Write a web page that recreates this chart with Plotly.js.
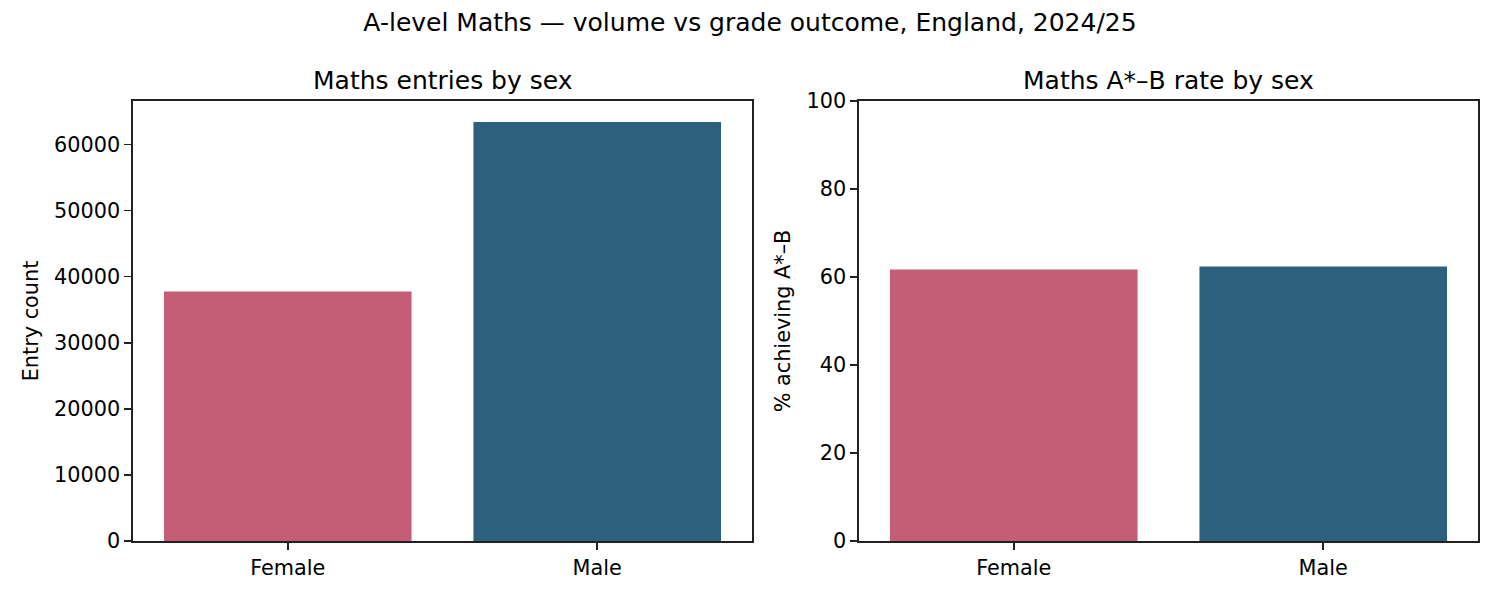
<!DOCTYPE html>
<html>
<head>
<meta charset="utf-8">
<script src="https://cdn.plot.ly/plotly-3.0.1.min.js"></script>
<style>
  html, body { margin: 0; padding: 0; background: #ffffff; }
  #chart { width: 1500px; height: 600px; }
</style>
</head>
<body>
<div id="chart"></div>
<script>
//Data
var sexes = ["Female", "Male"];
var entryCounts = [37750, 63400];
var abRates = [61.7, 62.4];
var barColors = ["#c45e76", "#2d607d"];

var font = "DejaVu Sans, Liberation Sans, sans-serif";
var ink = "#222222";

//Shared axis look, matplotlib-ish: box spines, outside ticks, no grid
function boxAxis(extra) {
    var ax = {
        showline: true, linecolor: ink, linewidth: 1.6, mirror: true,
        ticks: "outside", ticklen: 7, tickwidth: 1.6, tickcolor: ink,
        showgrid: false, zeroline: false, fixedrange: true,
        tickfont: {family: font, size: 20.8, color: "#000000"}
    };
    for (var k in extra) { ax[k] = extra[k]; }
    return ax;
}

var entriesTrace = {
    type: "bar", x: sexes, y: entryCounts, width: 0.8,
    marker: {color: barColors}, xaxis: "x", yaxis: "y",
    hoverinfo: "x+y", showlegend: false
};
var ratesTrace = {
    type: "bar", x: sexes, y: abRates, width: 0.8,
    marker: {color: barColors}, xaxis: "x2", yaxis: "y2",
    hoverinfo: "x+y", showlegend: false
};

//matplotlib style 5% headroom on the count panel
var entriesTop = Math.max.apply(null, entryCounts) * 1.05;

var layout = {
    width: 1500, height: 600,
    margin: {l: 0, r: 0, t: 0, b: 0},
    paper_bgcolor: "#ffffff", plot_bgcolor: "#ffffff",
    font: {family: font, color: "#000000"},
    bargap: 0.2,
    title: {
        text: "A-level Maths \u2014 volume vs grade outcome, England, 2024/25",
        font: {family: font, size: 25, color: "#000000"},
        x: 0.5, xanchor: "center", y: 0.963, yanchor: "middle"
    },
    xaxis: boxAxis({domain: [0.0887, 0.5013], range: [-0.5, 1.5], anchor: "y"}),
    yaxis: boxAxis({
        domain: [0.0983, 0.8317], range: [0, entriesTop], anchor: "x",
        tickformat: "d", dtick: 10000, tick0: 0,
        title: {text: "Entry count", standoff: 10, font: {family: font, size: 20.8, color: "#000000"}}
    }),
    xaxis2: boxAxis({domain: [0.5727, 0.9853], range: [-0.5, 1.5], anchor: "y2"}),
    yaxis2: boxAxis({
        domain: [0.0983, 0.8317], range: [0, 100], anchor: "x2",
        dtick: 20, tick0: 0,
        title: {text: "% achieving A*\u2013B", standoff: 10, font: {family: font, size: 20.8, color: "#000000"}}
    }),
    annotations: [
        {text: "Maths entries by sex", xref: "paper", yref: "paper",
         x: 0.295, y: 0.866, xanchor: "center", yanchor: "middle", showarrow: false,
         font: {family: font, size: 25, color: "#000000"}},
        {text: "Maths A*\u2013B rate by sex", xref: "paper", yref: "paper",
         x: 0.779, y: 0.866, xanchor: "center", yanchor: "middle", showarrow: false,
         font: {family: font, size: 25, color: "#000000"}}
    ]
};

Plotly.newPlot("chart", [entriesTrace, ratesTrace], layout, {displayModeBar: false, staticPlot: true});
</script>
</body>
</html>
